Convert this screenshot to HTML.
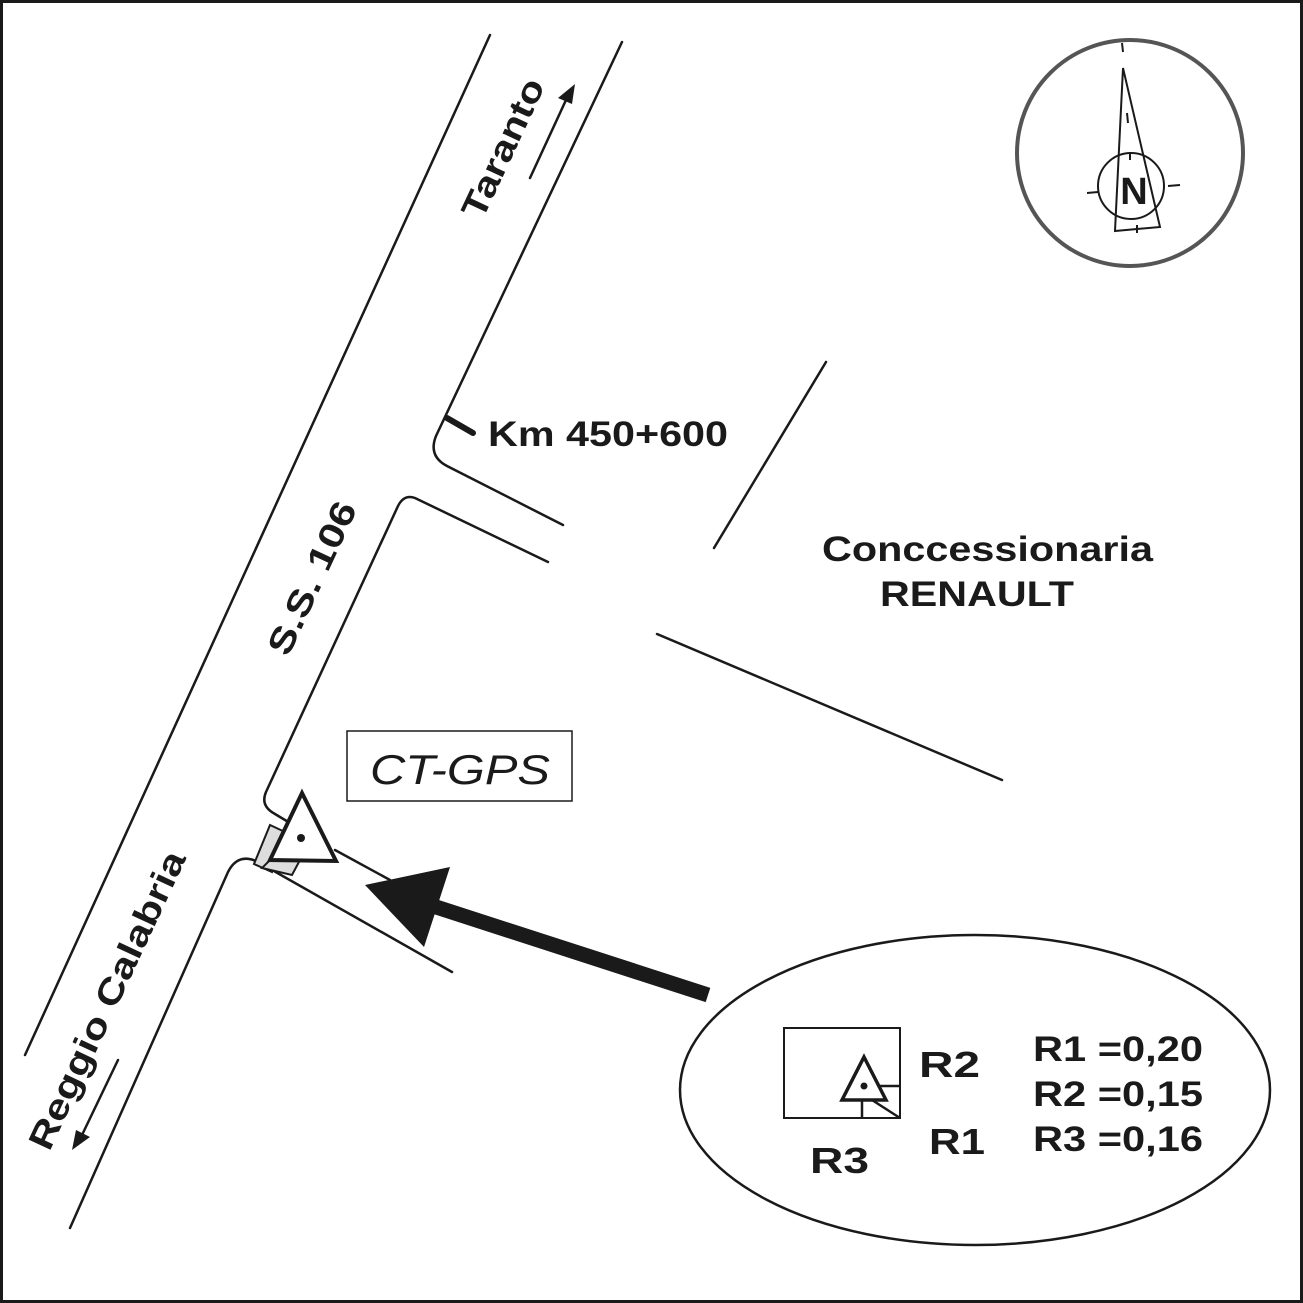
<!DOCTYPE html>
<html><head><style>body{margin:0;background:#fff}svg{display:block}text{font-family:"Liberation Sans",sans-serif;font-weight:bold;fill:#1a1a1a}</style></head>
<body>
<svg width="1303" height="1303" viewBox="0 0 1303 1303">
<rect x="1.5" y="1.5" width="1300" height="1300" fill="#fff" stroke="#1a1a1a" stroke-width="3"/>
<g fill="none" stroke="#1a1a1a" stroke-width="2.5" stroke-linecap="round">
<line x1="490" y1="35" x2="25" y2="1055"/>
<path d="M622 42 L436 436 Q428 456 447 466 L563 525"/>
<path d="M548 562 L415 498 Q404 494 398 506 L266 792 Q260 806 275 814 L295 826"/>
<path d="M452 972 L258 862 Q238 852 228 872 L70 1228"/>
<line x1="335" y1="850" x2="390" y2="880"/>
<line x1="826" y1="362" x2="714" y2="548"/>
<line x1="657" y1="634" x2="1002" y2="780"/>
<line x1="447" y1="418" x2="473" y2="433" stroke-width="6"/>
<line x1="530" y1="178" x2="566" y2="100"/>
<line x1="118" y1="1060" x2="82" y2="1135"/>
</g>
<polygon points="575,84 558,98 572,104" fill="#1a1a1a"/>
<polygon points="72,1150 76,1130 90,1137" fill="#1a1a1a"/>
<line x1="708" y1="995" x2="430" y2="905" stroke="#1a1a1a" stroke-width="15"/>
<polygon points="365,885 450,867 424,947" fill="#1a1a1a"/>
<polygon points="270,825 285,832 272,872 254,864" fill="#ddd" stroke="#1a1a1a" stroke-width="2"/>
<polygon points="270,860 300,860 292,875 262,868" fill="#ddd" stroke="#1a1a1a" stroke-width="2"/>
<polygon points="302,793 336,861 270,860" fill="#fff" stroke="#1a1a1a" stroke-width="4"/>
<circle cx="301" cy="838" r="4" fill="#1a1a1a"/>
<rect x="347" y="731" width="225" height="70" fill="none" stroke="#1a1a1a" stroke-width="1.5"/>
<text x="370" y="784" font-size="42" font-style="italic" style="font-weight:normal" textLength="180" lengthAdjust="spacingAndGlyphs">CT-GPS</text>
<text x="488" y="446" font-size="35" textLength="240" lengthAdjust="spacingAndGlyphs">Km 450+600</text>
<text x="822" y="561" font-size="35" textLength="331" lengthAdjust="spacingAndGlyphs">Conccessionaria</text>
<text x="880" y="606" font-size="35" textLength="194" lengthAdjust="spacingAndGlyphs">RENAULT</text>
<text transform="translate(503,148) rotate(-65)" font-size="35" text-anchor="middle" dy="12" textLength="150" lengthAdjust="spacingAndGlyphs">Taranto</text>
<text transform="translate(312,578) rotate(-65)" font-size="35" text-anchor="middle" dy="12" textLength="165" lengthAdjust="spacingAndGlyphs">S.S. 106</text>
<text transform="translate(107,1000) rotate(-65)" font-size="35" text-anchor="middle" dy="12" textLength="325" lengthAdjust="spacingAndGlyphs">Reggio Calabria</text>
<ellipse cx="975" cy="1090" rx="295" ry="155" fill="none" stroke="#1a1a1a" stroke-width="2.5"/>
<rect x="784" y="1028" width="116" height="90" fill="none" stroke="#1a1a1a" stroke-width="2"/>
<polygon points="864,1057 886,1100 842,1100" fill="#fff" stroke="#1a1a1a" stroke-width="3.5"/>
<circle cx="864" cy="1086" r="3.5" fill="#1a1a1a"/>
<g stroke="#1a1a1a" stroke-width="2.5"><line x1="878" y1="1086" x2="900" y2="1086"/><line x1="862" y1="1100" x2="862" y2="1118"/><line x1="872" y1="1100" x2="900" y2="1118"/></g>
<text x="919" y="1077" font-size="36" textLength="61" lengthAdjust="spacingAndGlyphs">R2</text>
<text x="929" y="1154" font-size="36" textLength="56" lengthAdjust="spacingAndGlyphs">R1</text>
<text x="810" y="1173" font-size="36" textLength="59" lengthAdjust="spacingAndGlyphs">R3</text>
<text x="1033" y="1061" font-size="35" textLength="170" lengthAdjust="spacingAndGlyphs">R1 =0,20</text>
<text x="1033" y="1106" font-size="35" textLength="170" lengthAdjust="spacingAndGlyphs">R2 =0,15</text>
<text x="1033" y="1151" font-size="35" textLength="170" lengthAdjust="spacingAndGlyphs">R3 =0,16</text>
<circle cx="1130" cy="153" r="113" fill="none" stroke="#555" stroke-width="4"/>
<g fill="none" stroke="#1a1a1a" stroke-width="2">
<polygon points="1123,68 1160,227 1115,231"/>
<circle cx="1131" cy="186" r="33"/>
<line x1="1122" y1="43" x2="1123" y2="52"/>
<line x1="1127" y1="113" x2="1128" y2="123"/>
<line x1="1130" y1="152" x2="1130" y2="160"/>
<line x1="1087" y1="193" x2="1098" y2="192"/>
<line x1="1168" y1="186" x2="1180" y2="185"/>
<line x1="1137" y1="225" x2="1137" y2="233"/>
</g>
<text x="1134" y="204" font-size="38" text-anchor="middle">N</text>
</svg>
</body></html>
